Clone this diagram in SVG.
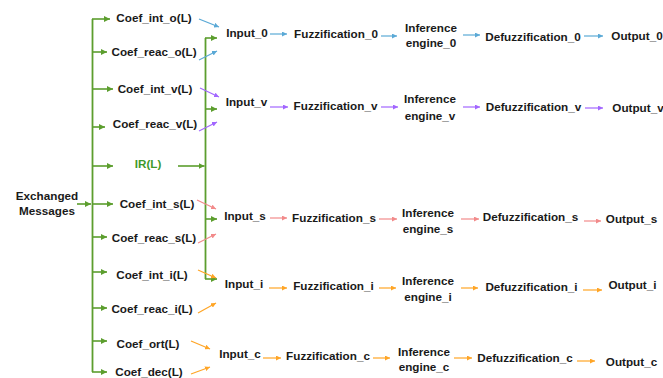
<svg xmlns="http://www.w3.org/2000/svg" width="663" height="378" viewBox="0 0 663 378">
<style>
text{font-family:"Liberation Sans",Arial,sans-serif;font-weight:bold;font-size:11.7px;fill:#1a1a1a;text-anchor:middle}
.ir{fill:#3f9a2a}
.g{stroke:#5c9e2e;stroke-width:1.8;fill:none}
.ga{stroke:#5c9e2e;stroke-width:1.6;fill:none;marker-end:url(#mg)}
.b{stroke:#5aa9d6;stroke-width:1.2;marker-end:url(#mb)}
.p{stroke:#a266ff;stroke-width:1.2;marker-end:url(#mp)}
.s{stroke:#f28a8a;stroke-width:1.2;marker-end:url(#ms)}
.o{stroke:#ffa526;stroke-width:1.2;marker-end:url(#mo)}
</style>
<defs>
<marker id="mg" viewBox="0 0 6 6" refX="6" refY="3" markerWidth="6" markerHeight="6" markerUnits="userSpaceOnUse" orient="auto"><path d="M0,0L6,3L0,6z" fill="#5c9e2e"/></marker>
<marker id="mb" viewBox="0 0 6 6" refX="6" refY="3" markerWidth="5" markerHeight="5" markerUnits="userSpaceOnUse" orient="auto"><path d="M0,0L6,3L0,6z" fill="#5aa9d6"/></marker>
<marker id="mp" viewBox="0 0 6 6" refX="6" refY="3" markerWidth="5" markerHeight="5" markerUnits="userSpaceOnUse" orient="auto"><path d="M0,0L6,3L0,6z" fill="#a266ff"/></marker>
<marker id="ms" viewBox="0 0 6 6" refX="6" refY="3" markerWidth="5" markerHeight="5" markerUnits="userSpaceOnUse" orient="auto"><path d="M0,0L6,3L0,6z" fill="#f28a8a"/></marker>
<marker id="mo" viewBox="0 0 6 6" refX="6" refY="3" markerWidth="5" markerHeight="5" markerUnits="userSpaceOnUse" orient="auto"><path d="M0,0L6,3L0,6z" fill="#ffa526"/></marker>
</defs>
<rect width="663" height="378" fill="#ffffff"/>
<g id="connectors">
<!-- left green bus -->
<path class="g" d="M92.5,19V372"/>
<line class="ga" x1="77" y1="204" x2="91" y2="204"/>
<line class="ga" x1="92" y1="19" x2="110" y2="19"/>
<line class="ga" x1="92" y1="52" x2="107" y2="52"/>
<line class="ga" x1="92" y1="89" x2="113" y2="89"/>
<line class="ga" x1="92" y1="127" x2="105" y2="127"/>
<line class="ga" x1="92" y1="166" x2="113" y2="166"/>
<line class="ga" x1="92" y1="204" x2="113" y2="204"/>
<line class="ga" x1="92" y1="237" x2="107" y2="237"/>
<line class="ga" x1="92" y1="272" x2="107" y2="272"/>
<line class="ga" x1="92" y1="308" x2="107" y2="308"/>
<line class="ga" x1="92" y1="341" x2="107" y2="341"/>
<line class="ga" x1="92" y1="372" x2="107" y2="372"/>
<!-- right green bus -->
<path class="g" d="M205.5,38V279"/>
<line class="ga" x1="178" y1="166" x2="204.5" y2="166"/>
<line class="ga" x1="205" y1="38" x2="217" y2="38"/>
<line class="ga" x1="205" y1="109" x2="217" y2="109"/>
<line class="ga" x1="205" y1="219" x2="217" y2="219"/>
<line class="ga" x1="205" y1="279" x2="217" y2="279"/>
<!-- diagonal coefficient arrows -->
<line class="b" x1="199" y1="19" x2="219" y2="27"/>
<line class="b" x1="199" y1="60" x2="217" y2="51"/>
<line class="p" x1="200" y1="88" x2="219" y2="97"/>
<line class="p" x1="199" y1="131" x2="217" y2="122"/>
<line class="s" x1="197" y1="200" x2="216" y2="209"/>
<line class="s" x1="198" y1="243" x2="216" y2="234"/>
<line class="o" x1="198" y1="270" x2="216" y2="278"/>
<line class="o" x1="198" y1="313" x2="216" y2="303"/>
<line class="o" x1="191" y1="341" x2="210" y2="349"/>
<line class="o" x1="191" y1="374" x2="210" y2="367"/>
<!-- row 0 -->
<line class="b" x1="270" y1="34" x2="287" y2="34"/>
<line class="b" x1="381" y1="36" x2="397" y2="36"/>
<line class="b" x1="463" y1="35" x2="480" y2="35"/>
<line class="b" x1="584" y1="36" x2="603" y2="36"/>
<!-- row v -->
<line class="p" x1="270" y1="107" x2="288" y2="107"/>
<line class="p" x1="381" y1="107" x2="398" y2="107"/>
<line class="p" x1="463" y1="107" x2="480" y2="107"/>
<line class="p" x1="585" y1="108" x2="603" y2="108"/>
<!-- row s -->
<line class="s" x1="270" y1="218" x2="287" y2="218"/>
<line class="s" x1="379" y1="219" x2="397" y2="219"/>
<line class="s" x1="461" y1="219" x2="479" y2="219"/>
<line class="s" x1="584" y1="221" x2="601" y2="221"/>
<!-- row i -->
<line class="o" x1="269" y1="288" x2="287" y2="288"/>
<line class="o" x1="379" y1="288" x2="396" y2="288"/>
<line class="o" x1="461" y1="288" x2="478" y2="288"/>
<line class="o" x1="583" y1="290" x2="602" y2="290"/>
<!-- row c -->
<line class="o" x1="263" y1="358" x2="281" y2="358"/>
<line class="o" x1="373" y1="358" x2="390" y2="358"/>
<line class="o" x1="454" y1="358" x2="472" y2="358"/>
<line class="o" x1="577" y1="361" x2="595" y2="361"/>
</g>
<g id="exchanged"><text x="47" y="200">Exchanged</text><text x="47" y="215">Messages</text></g>
<g id="coef_int_o"><text x="154" y="22">Coef_int_o(L)</text></g>
<g id="coef_reac_o"><text x="154" y="56">Coef_reac_o(L)</text></g>
<g id="coef_int_v"><text x="155" y="93">Coef_int_v(L)</text></g>
<g id="coef_reac_v"><text x="155" y="128">Coef_reac_v(L)</text></g>
<g id="ir"><text class="ir" x="148" y="168">IR(L)</text></g>
<g id="coef_int_s"><text x="157" y="208">Coef_int_s(L)</text></g>
<g id="coef_reac_s"><text x="154" y="242">Coef_reac_s(L)</text></g>
<g id="coef_int_i"><text x="152" y="279">Coef_int_i(L)</text></g>
<g id="coef_reac_i"><text x="152" y="313">Coef_reac_i(L)</text></g>
<g id="coef_ort"><text x="148" y="348">Coef_ort(L)</text></g>
<g id="coef_dec"><text x="149" y="376">Coef_dec(L)</text></g>
<g id="input_0"><text x="247" y="37">Input_0</text></g>
<g id="fuzz_0"><text x="336" y="38">Fuzzification_0</text></g>
<g id="inf_0"><text x="431" y="32">Inference</text><text x="431" y="47">engine_0</text></g>
<g id="defuzz_0"><text x="533" y="41">Defuzzification_0</text></g>
<g id="output_0"><text x="637" y="40">Output_0</text></g>
<g id="input_v"><text x="246.5" y="106">Input_v</text></g>
<g id="fuzz_v"><text x="335.5" y="110">Fuzzification_v</text></g>
<g id="inf_v"><text x="430" y="103">Inference</text><text x="430" y="120">engine_v</text></g>
<g id="defuzz_v"><text x="533.5" y="111">Defuzzification_v</text></g>
<g id="output_v"><text x="638" y="112">Output_v</text></g>
<g id="input_s"><text x="245" y="220">Input_s</text></g>
<g id="fuzz_s"><text x="334" y="222">Fuzzification_s</text></g>
<g id="inf_s"><text x="428" y="217">Inference</text><text x="428" y="233">engine_s</text></g>
<g id="defuzz_s"><text x="530.5" y="221">Defuzzification_s</text></g>
<g id="output_s"><text x="631.5" y="223">Output_s</text></g>
<g id="input_i"><text x="244" y="288">Input_i</text></g>
<g id="fuzz_i"><text x="333.5" y="290">Fuzzification_i</text></g>
<g id="inf_i"><text x="428" y="285">Inference</text><text x="428" y="301">engine_i</text></g>
<g id="defuzz_i"><text x="531.5" y="291">Defuzzification_i</text></g>
<g id="output_i"><text x="632.5" y="289">Output_i</text></g>
<g id="input_c"><text x="240" y="358">Input_c</text></g>
<g id="fuzz_c"><text x="328" y="360">Fuzzification_c</text></g>
<g id="inf_c"><text x="424" y="356">Inference</text><text x="424" y="371">engine_c</text></g>
<g id="defuzz_c"><text x="525" y="362">Defuzzification_c</text></g>
<g id="output_c"><text x="631.5" y="366">Output_c</text></g>
</svg>
